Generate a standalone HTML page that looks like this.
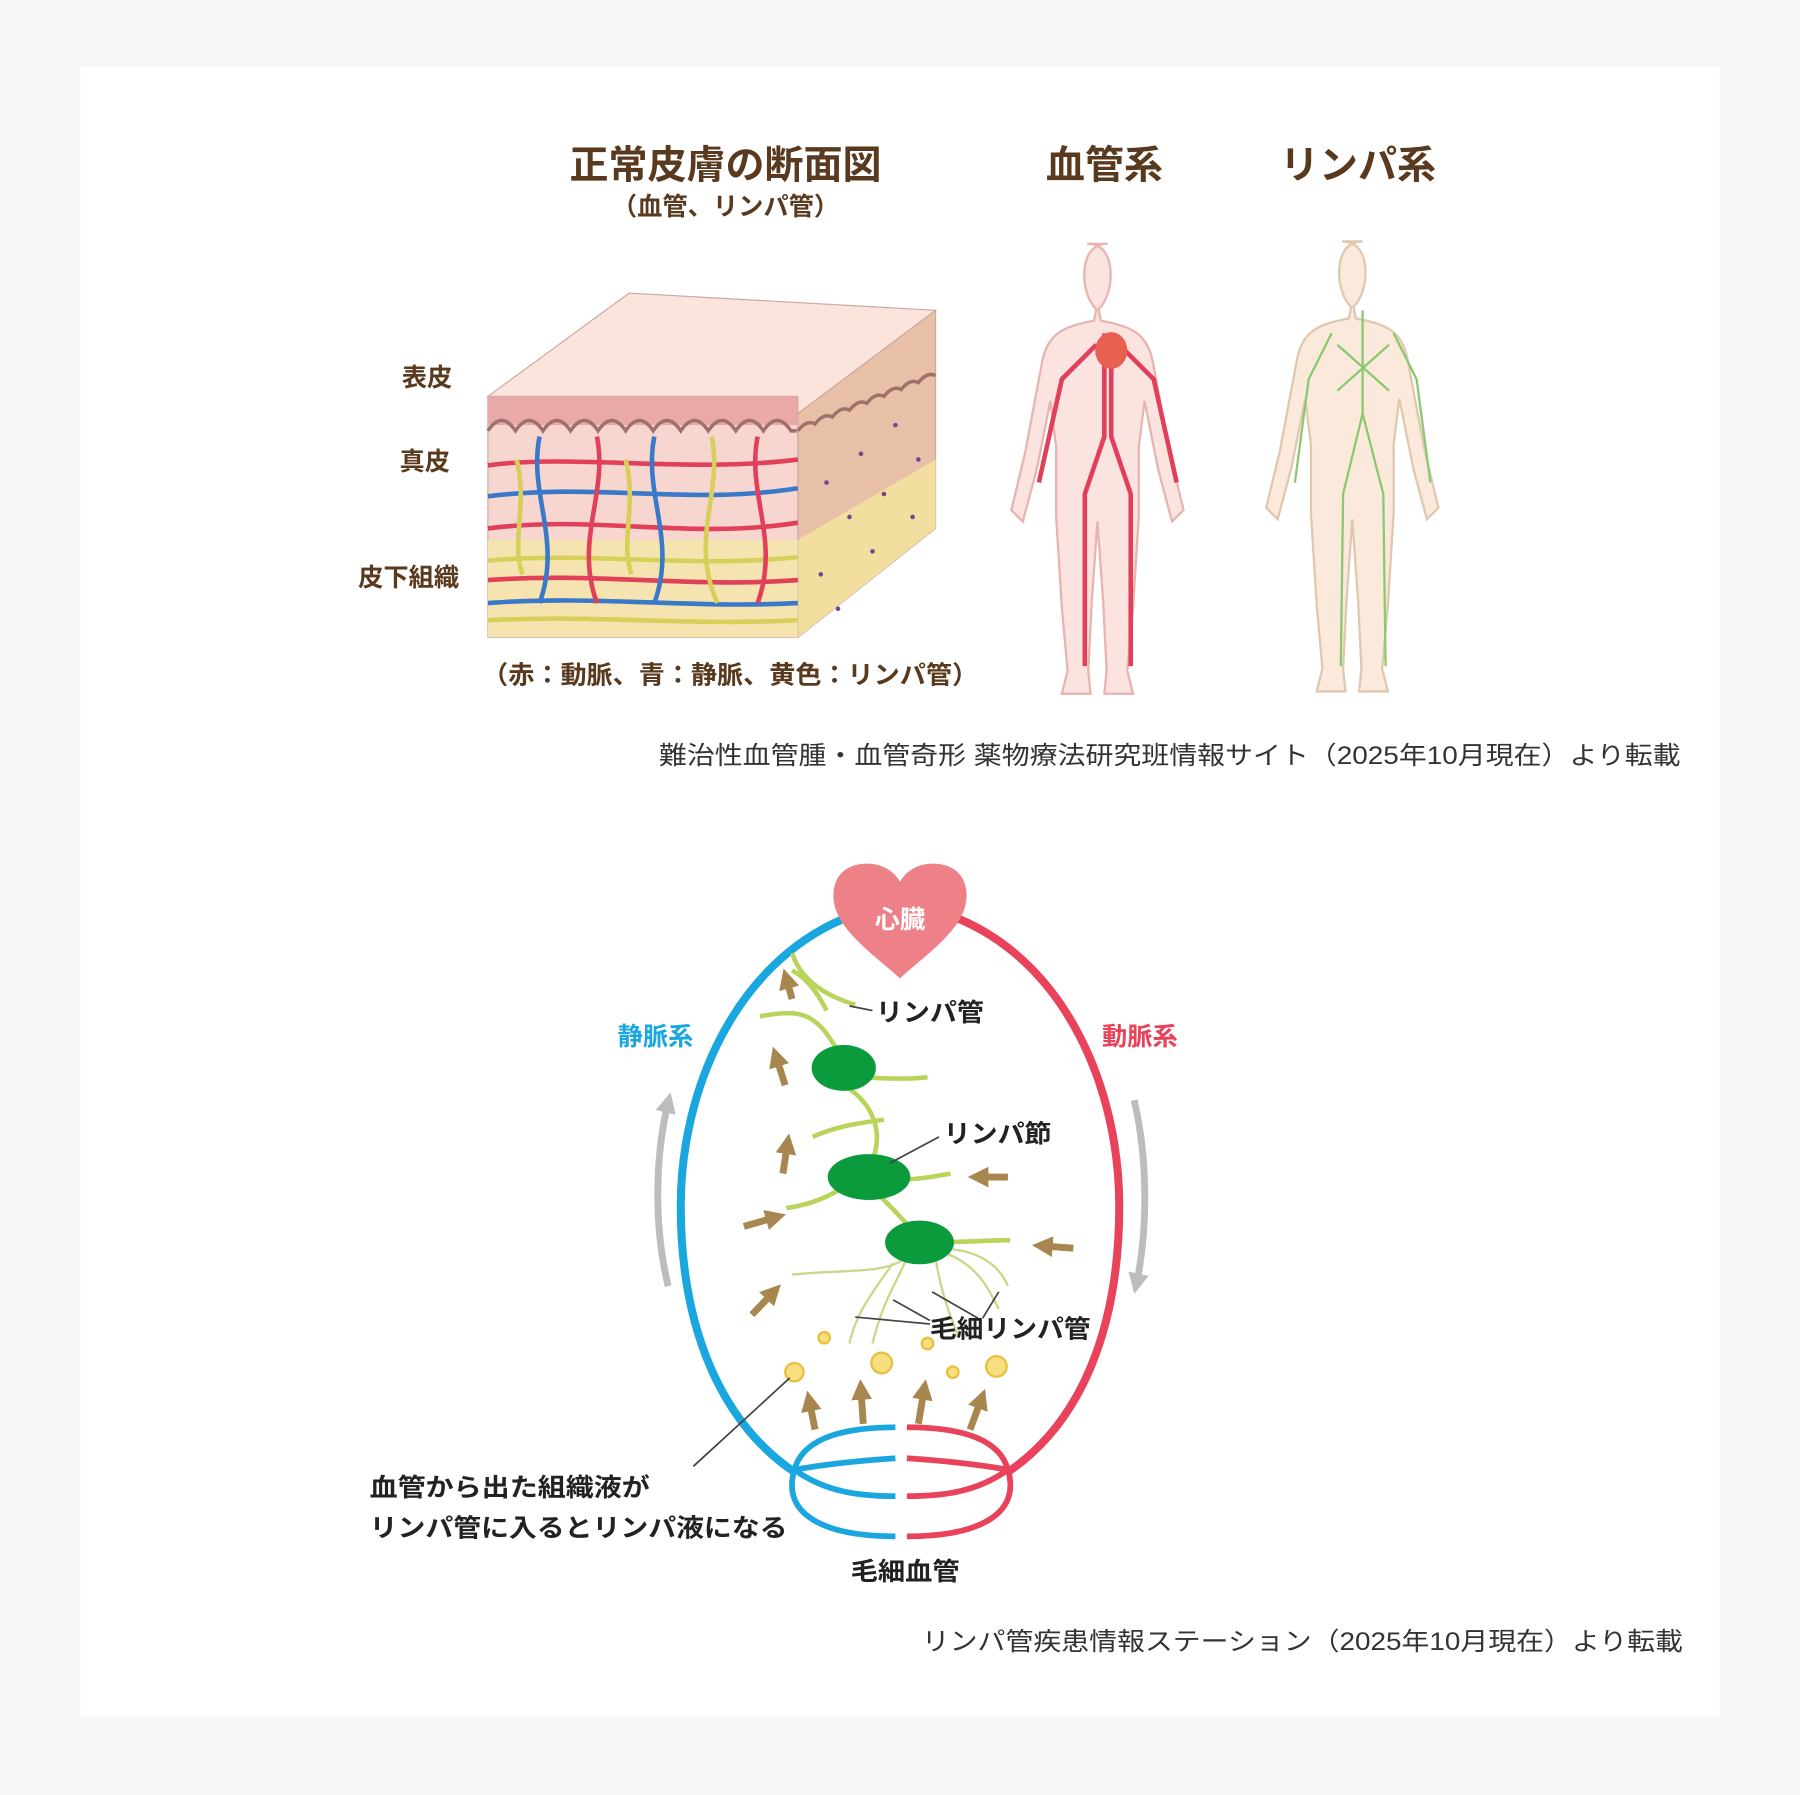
<!DOCTYPE html>
<html><head><meta charset="utf-8">
<style>
html,body{margin:0;padding:0;background:#f7f7f7;}
svg{display:block;}
text{font-family:"Liberation Sans","Noto Sans CJK JP",sans-serif;}
</style></head>
<body>
<svg width="1800" height="1795" viewBox="0 0 1568 1563" xmlns="http://www.w3.org/2000/svg">
<defs>
<marker id="ah" viewBox="0 0 10 10" refX="5" refY="5" markerWidth="3" markerHeight="3" orient="auto"><path d="M0,0 L10,5 L0,10 z" fill="#a8864f"/></marker>
<marker id="gh" viewBox="0 0 10 10" refX="5" refY="5" markerWidth="3" markerHeight="3" orient="auto"><path d="M0,0 L10,5 L0,10 z" fill="#bdbdbd"/></marker>
</defs>
<rect width="1568" height="1563" fill="#f7f7f7"/>
<rect x="70" y="58" width="1428" height="1437" fill="#fff"/>

<g fill="#5a3a1e" font-weight="bold" text-anchor="middle">
<text x="632" y="155" font-size="34">正常皮膚の断面図</text>
<text x="632" y="187" font-size="22">（血管、リンパ管）</text>
<text x="962" y="155" font-size="34">血管系</text>
<text x="1183" y="155" font-size="34">リンパ系</text>
<text x="372" y="336" font-size="22">表皮</text>
<text x="370" y="409" font-size="22">真皮</text>
<text x="356" y="510" font-size="22">皮下組織</text>
</g>
<text x="420" y="595" font-size="22" font-weight="bold" fill="#5a3a1e" textLength="432" lengthAdjust="spacingAndGlyphs">（赤：動脈、青：静脈、黄色：リンパ管）</text>
<text x="574" y="665" font-size="22" fill="#333" textLength="890" lengthAdjust="spacingAndGlyphs">難治性血管腫・血管奇形 薬物療法研究班情報サイト（2025年10月現在）より転載</text>

<polygon points="425,345 548,255 815,270 695,360" fill="#fbe4dc" stroke="#c9a9a0"/>
<polygon points="695,360 815,270 815,460 695,555" fill="#e8c0a8" stroke="#c9a9a0"/>
<polygon points="695,470 815,400 815,460 695,555" fill="#f2dfa0"/>
<rect x="425" y="345" width="270" height="210" fill="#f7d6cf" stroke="#c9a9a0"/>
<rect x="425" y="345" width="270" height="25" fill="#e8a9a8"/>
<path d="M425,375 q12,-18 24,0 q12,-18 24,0 q12,-18 24,0 q12,-18 24,0 q12,-18 24,0 q12,-18 24,0 q12,-18 24,0 q12,-18 24,0 q12,-18 24,0 q12,-18 24,0 q12,-18 24,0 l5,0" fill="none" stroke="#a0706a" stroke-width="3"/>
<rect x="425" y="470" width="270" height="85" fill="#f6e4b0"/>
<g fill="none" stroke-width="4">
<path d="M425,405 C500,395 600,412 695,400" stroke="#e0405a"/>
<path d="M425,432 C520,420 600,440 695,425" stroke="#3a78c8"/>
<path d="M425,460 C520,448 600,470 695,455" stroke="#e0405a"/>
<path d="M425,488 C520,480 600,495 695,485" stroke="#d6cf5a"/>
<path d="M425,505 C520,498 600,512 695,505" stroke="#e0405a"/>
<path d="M425,525 C520,518 600,530 695,525" stroke="#3a78c8"/>
<path d="M425,540 C520,535 600,545 695,540" stroke="#d6cf5a"/>
<path d="M470,380 C460,430 490,470 470,525" stroke="#3a78c8"/>
<path d="M520,380 C530,430 500,470 520,525" stroke="#e0405a"/>
<path d="M570,380 C560,430 590,470 570,525" stroke="#3a78c8"/>
<path d="M620,380 C630,430 600,470 625,525" stroke="#d6cf5a"/>
<path d="M660,380 C650,430 680,470 660,525" stroke="#e0405a"/>
<path d="M450,400 C460,440 445,470 455,500" stroke="#d6cf5a"/>
<path d="M545,400 C555,440 540,470 550,500" stroke="#d6cf5a"/>
</g>
<path d="M695,375 q8,-10 15,-6 q8,-10 15,-6 q8,-10 15,-6 q8,-10 15,-6 q8,-10 15,-6 q8,-10 15,-6 q8,-10 15,-6 q8,-10 15,-6" fill="none" stroke="#a0706a" stroke-width="3"/>
<g fill="#6a4a8a"><circle cx="720" cy="420" r="2"/><circle cx="750" cy="395" r="2"/><circle cx="780" cy="370" r="2"/><circle cx="740" cy="450" r="2"/><circle cx="770" cy="430" r="2"/><circle cx="800" cy="400" r="2"/><circle cx="715" cy="500" r="2"/><circle cx="760" cy="480" r="2"/><circle cx="795" cy="450" r="2"/><circle cx="730" cy="530" r="2"/></g>

<g>
<path d="M965,212 c-18,0 -22,18 -20,35 c2,12 6,18 10,22 l-2,10 c-25,5 -40,10 -45,35 l-15,80 l-12,50 l10,10 l12,-45 l12,-60 l5,40 l0,60 l5,80 l5,55 l-5,20 l25,0 l-2,-20 l3,-60 l5,-70 l5,70 l3,60 l-2,20 l25,0 l-5,-20 l5,-55 l5,-80 l0,-60 l5,-40 l12,60 l12,45 l10,-10 l-12,-50 l-15,-80 c-5,-25 -20,-30 -45,-35 l-2,-10 c4,-4 8,-10 10,-22 c2,-17 -2,-35 -20,-35 z" fill="#fbe4e0" stroke="#e8b4b0" stroke-width="2"/>
<path d="M962,290 L962,380 L945,430 L945,580 M968,290 L968,380 L985,430 L985,580 M955,300 L925,330 L905,420 M975,300 L1005,330 L1025,420" stroke="#e0405a" stroke-width="4" fill="none"/>
<ellipse cx="968" cy="305" rx="14" ry="16" fill="#e86050"/>
</g>
<g>
<path d="M1187,210 c-18,0 -22,18 -20,35 c2,12 6,18 10,22 l-2,10 c-25,5 -40,10 -45,35 l-15,80 l-12,50 l10,10 l12,-45 l12,-60 l5,40 l0,60 l5,80 l5,55 l-5,20 l25,0 l-2,-20 l3,-60 l5,-70 l5,70 l3,60 l-2,20 l25,0 l-5,-20 l5,-55 l5,-80 l0,-60 l5,-40 l12,60 l12,45 l10,-10 l-12,-50 l-15,-80 c-5,-25 -20,-30 -45,-35 l-2,-10 c4,-4 8,-10 10,-22 c2,-17 -2,-35 -20,-35 z" fill="#fbeadc" stroke="#e0c8b0" stroke-width="2"/>
<path d="M1187,270 L1187,360 L1170,430 L1168,580 M1187,360 L1205,430 L1207,580 M1160,290 L1140,330 L1128,420 M1214,290 L1234,330 L1246,420 M1165,300 L1210,340 M1210,300 L1165,340" stroke="#8cc870" stroke-width="2" fill="none"/>
</g>

<g fill="none" stroke-width="7">
<path d="M735,800 C640,840 593,950 593,1050 C593,1160 630,1240 692,1282" stroke="#1aa7e0"/>
<path d="M835,800 C930,840 975,950 975,1050 C975,1160 940,1240 878,1282" stroke="#e8435a"/>
<path d="M692,1280 C700,1250 740,1243 780,1243 M692,1280 C720,1275 750,1272 780,1270 M692,1280 C720,1300 750,1303 780,1303 M692,1280 C680,1320 720,1338 780,1338" stroke="#1aa7e0" stroke-width="5"/>
<path d="M878,1280 C870,1250 830,1243 790,1243 M878,1280 C850,1275 820,1272 790,1270 M878,1280 C850,1300 820,1303 790,1303 M878,1280 C890,1320 850,1338 790,1338" stroke="#e8435a" stroke-width="5"/>
<path d="M582,1120 C570,1070 570,1010 582,960" stroke="#bdbdbd" stroke-width="6" marker-end="url(#gh)"/>
<path d="M988,958 C1000,1010 1000,1070 990,1118" stroke="#bdbdbd" stroke-width="6" marker-end="url(#gh)"/>
</g>
<path d="M784,852 C760,830 726,808 726,780 C726,760 740,752 755,752 C770,752 780,760 784,768 C788,760 798,752 813,752 C828,752 842,760 842,780 C842,808 808,830 784,852 z" fill="#ee8088"/>
<text x="784" y="808" font-size="22" font-weight="bold" fill="#fff" text-anchor="middle">心臓</text>

<g fill="none" stroke="#b8d45a" stroke-width="4">
<path d="M690,830 C700,860 730,870 745,875"/>
<path d="M662,885 C690,880 705,880 720,900 C730,915 735,920 735,930"/>
<path d="M720,880 C710,860 700,850 690,845"/>
<path d="M735,935 C760,940 790,940 808,938"/>
<path d="M735,945 C760,960 770,985 760,1010"/>
<path d="M708,990 C730,980 750,978 770,975"/>
<path d="M757,1025 C790,1030 810,1025 828,1022"/>
<path d="M740,1030 C720,1045 700,1050 685,1052"/>
<path d="M765,1040 C780,1055 795,1070 800,1080"/>
<path d="M801,1082 C840,1082 860,1080 880,1080"/>
</g>
<g fill="none" stroke="#c8d88a" stroke-width="2">
<path d="M790,1095 C770,1110 740,1105 690,1110"/>
<path d="M790,1095 C780,1120 770,1130 760,1170"/>
<path d="M778,1100 C760,1125 745,1145 740,1170"/>
<path d="M815,1095 C820,1130 830,1150 835,1165"/>
<path d="M820,1090 C850,1100 860,1120 870,1140"/>
<path d="M830,1088 C850,1090 870,1100 878,1120"/>
</g>
<g fill="#0b9a3c">
<ellipse cx="735" cy="930" rx="28" ry="20"/>
<ellipse cx="757" cy="1025" rx="36" ry="20"/>
<ellipse cx="801" cy="1082" rx="30" ry="19"/>
</g>
<g fill="#f7df80" stroke="#e8c040" stroke-width="2">
<circle cx="718" cy="1165" r="5"/><circle cx="692" cy="1195" r="8"/><circle cx="768" cy="1187" r="9"/><circle cx="808" cy="1170" r="5"/><circle cx="830" cy="1195" r="5"/><circle cx="868" cy="1190" r="9"/>
</g>
<g stroke="#a8864f" stroke-width="6" fill="none" marker-end="url(#ah)">
<path d="M690,870 L685,852"/>
<path d="M684,945 L676,920"/>
<path d="M682,1022 L686,996"/>
<path d="M648,1068 L676,1060"/>
<path d="M655,1145 L674,1125"/>
<path d="M878,1025 L852,1025"/>
<path d="M935,1087 L908,1085"/>
<path d="M710,1245 L705,1220"/>
<path d="M752,1240 L750,1210"/>
<path d="M800,1240 L805,1210"/>
<path d="M845,1245 L855,1218"/>
</g>
<g stroke="#444" stroke-width="1.5" fill="none">
<path d="M740,876 L760,880"/>
<path d="M775,1013 L818,990"/>
<path d="M745,1147 L810,1153 M778,1132 L810,1150 M812,1125 L852,1148 M870,1125 L856,1148"/>
<path d="M604,1277 L688,1200"/>
</g>
<g fill="#222" font-weight="bold" font-size="22">
<text x="763" y="889" textLength="94" lengthAdjust="spacingAndGlyphs">リンパ管</text>
<text x="822" y="995" textLength="94" lengthAdjust="spacingAndGlyphs">リンパ節</text>
<text x="810" y="1165" textLength="140" lengthAdjust="spacingAndGlyphs">毛細リンパ管</text>
<text x="741" y="1376" textLength="95" lengthAdjust="spacingAndGlyphs">毛細血管</text>
<text x="322" y="1303" textLength="244" lengthAdjust="spacingAndGlyphs">血管から出た組織液が</text>
<text x="322" y="1338" textLength="364" lengthAdjust="spacingAndGlyphs">リンパ管に入るとリンパ液になる</text>
</g>
<text x="571" y="910" font-size="22" font-weight="bold" fill="#1aa7e0" text-anchor="middle">静脈系</text>
<text x="993" y="910" font-size="22" font-weight="bold" fill="#e8435a" text-anchor="middle">動脈系</text>
<text x="803" y="1437" font-size="22" fill="#333" textLength="663" lengthAdjust="spacingAndGlyphs">リンパ管疾患情報ステーション（2025年10月現在）より転載</text>
</svg>
</body></html>
